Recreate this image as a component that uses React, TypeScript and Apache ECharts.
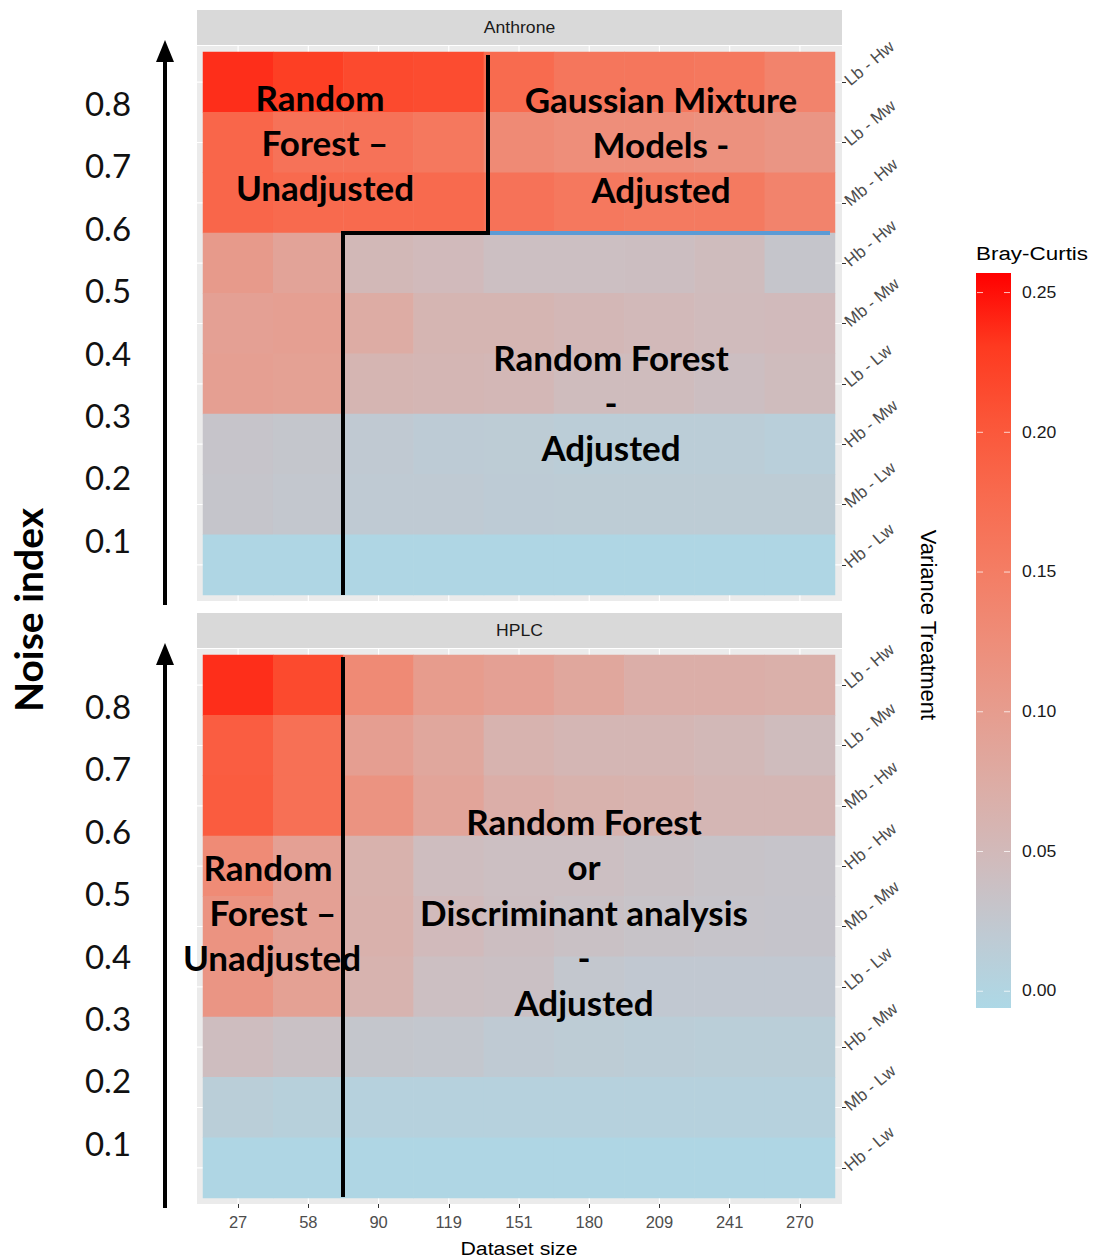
import React, { useEffect, useRef } from "react";
import * as echarts from "echarts";

// ---------- data ----------
const datasetSizes = ["27", "58", "90", "119", "151", "180", "209", "241", "270"];
// bottom -> top (category order of the y axis)
const varianceTreatments = ["Hb - Lw", "Mb - Lw", "Hb - Mw", "Lb - Lw", "Mb - Mw", "Hb - Hw", "Mb - Hw", "Lb - Mw", "Lb - Hw"];
// noise index labels, top -> bottom
const noiseLabels = ["0.8", "0.7", "0.6", "0.5", "0.4", "0.3", "0.2", "0.1"];
const legendTicks = [0, 0.05, 0.1, 0.15, 0.2, 0.25];
const colorMin = -0.006;
const colorMax = 0.257;

// Anthrone, rows top -> bottom (Lb-Hw ... Hb-Lw), columns = dataset sizes
const anthroneLbHw = [0.236, 0.226, 0.215, 0.213, 0.177, 0.160, 0.160, 0.158, 0.141];
const anthroneLbMw = [0.183, 0.166, 0.166, 0.158, 0.130, 0.124, 0.124, 0.119, 0.112];
const anthroneMbHw = [0.183, 0.178, 0.178, 0.178, 0.166, 0.158, 0.155, 0.155, 0.141];
const anthroneHbHw = [0.104, 0.089, 0.052, 0.048, 0.040, 0.040, 0.041, 0.045, 0.029];
const anthroneMbMw = [0.094, 0.096, 0.075, 0.058, 0.058, 0.054, 0.050, 0.047, 0.048];
const anthroneLbLw = [0.096, 0.093, 0.058, 0.056, 0.054, 0.045, 0.045, 0.041, 0.045];
const anthroneHbMw = [0.031, 0.028, 0.022, 0.018, 0.017, 0.015, 0.015, 0.015, 0.011];
const anthroneMbLw = [0.029, 0.026, 0.020, 0.020, 0.018, 0.017, 0.017, 0.017, 0.017];
const anthroneHbLw = [-0.003, -0.003, -0.003, -0.003, -0.003, -0.003, -0.003, -0.003, -0.003];

// HPLC, rows top -> bottom
const hplcLbHw = [0.236, 0.215, 0.130, 0.101, 0.094, 0.083, 0.071, 0.071, 0.068];
const hplcLbMw = [0.194, 0.169, 0.097, 0.083, 0.062, 0.056, 0.056, 0.052, 0.045];
const hplcMbHw = [0.196, 0.169, 0.116, 0.088, 0.071, 0.064, 0.062, 0.056, 0.056];
const hplcHbHw = [0.129, 0.094, 0.064, 0.043, 0.040, 0.040, 0.036, 0.033, 0.031];
const hplcMbMw = [0.116, 0.094, 0.066, 0.048, 0.041, 0.036, 0.033, 0.031, 0.030];
const hplcLbLw = [0.112, 0.093, 0.062, 0.040, 0.038, 0.026, 0.023, 0.023, 0.023];
const hplcHbMw = [0.043, 0.036, 0.028, 0.026, 0.020, 0.017, 0.015, 0.013, 0.013];
const hplcMbLw = [0.013, 0.009, 0.007, 0.007, 0.007, 0.007, 0.007, 0.007, 0.007];
const hplcHbLw = [-0.003, -0.003, -0.003, -0.003, -0.003, -0.003, -0.003, -0.003, -0.003];

const anthroneRows = [anthroneLbHw, anthroneLbMw, anthroneMbHw, anthroneHbHw, anthroneMbMw, anthroneLbLw, anthroneHbMw, anthroneMbLw, anthroneHbLw];
const hplcRows = [hplcLbHw, hplcLbMw, hplcMbHw, hplcHbHw, hplcMbMw, hplcLbLw, hplcHbMw, hplcMbLw, hplcHbLw];

// lightblue -> red gradient (Lab-like interpolation)
const gradientColors = ["#ADD8E6", "#BFCAD3", "#D0BBBC", "#DCADA6", "#E69D8F", "#EE8D79", "#F47C63", "#F86A4E", "#FB5538", "#FE3A20", "#FF0000"];

function toCells(rows: number[][]) {
  const out: [number, number, number][] = [];
  rows.forEach((row, r) => {
    row.forEach((v, c) => out.push([c, rows.length - 1 - r, v]));
  });
  return out;
}

// ---------- layout ----------
const PANEL_L = 197, PANEL_R = 842;
const TILE_L = 203, TILE_W = 632;
const panels = [
  { strip: 10, panelTop: 46, tileTop: 52, label: "Anthrone" },
  { strip: 613, panelTop: 649, tileTop: 655, label: "HPLC" },
];
const TILE_H = 543;
const CELL_W = TILE_W / 9;
const CELL_H = TILE_H / 9;
const SANS = "'Liberation Sans', Arial, sans-serif";
const CAL = "Lato, 'Open Sans', sans-serif";

export default function App() {
  const ref = useRef<HTMLDivElement>(null);
  useEffect(() => {
    document.body.style.margin = "0";
    const chart = echarts.init(ref.current!, null, { renderer: "svg" });

    const graphics: any[] = [];
    panels.forEach((p) => {
      graphics.push({ type: "rect", z: 0, shape: { x: PANEL_L, y: p.panelTop, width: PANEL_R - PANEL_L, height: TILE_H + 12 }, style: { fill: "#EBEBEB" } });
      for (let i = 0; i < 9; i++) {
        const x = TILE_L + CELL_W * (i + 0.5);
        graphics.push({ type: "line", z: 1, shape: { x1: x, y1: p.panelTop, x2: x, y2: p.panelTop + TILE_H + 12 }, style: { stroke: "#FFFFFF", lineWidth: 1.2 } });
        const y = p.tileTop + CELL_H * (i + 0.5);
        graphics.push({ type: "line", z: 1, shape: { x1: PANEL_L, y1: y, x2: PANEL_R, y2: y }, style: { stroke: "#FFFFFF", lineWidth: 1.2 } });
      }
      graphics.push({ type: "rect", z: 0, shape: { x: PANEL_L, y: p.strip, width: PANEL_R - PANEL_L, height: 35 }, style: { fill: "#D9D9D9" } });
      graphics.push({ type: "text", z: 5, x: (PANEL_L + PANEL_R) / 2, y: p.strip + 18, scaleX: 1.1, style: { text: p.label, fill: "#1A1A1A", font: `16px ${SANS}`, align: "center", verticalAlign: "middle" } });
      noiseLabels.forEach((t, i) => {
        graphics.push({ type: "text", z: 5, x: 108, y: p.tileTop + 51 + i * 62.4, style: { text: t, fill: "#111", font: `33px ${CAL}`, align: "center", verticalAlign: "middle" } });
      });
      graphics.push({ type: "line", z: 5, shape: { x1: 165, y1: p.panelTop + 559, x2: 165, y2: p.panelTop + 10 }, style: { stroke: "#000", lineWidth: 4 } });
      graphics.push({ type: "polygon", z: 5, shape: { points: [[156, p.panelTop + 16], [174, p.panelTop + 16], [165, p.panelTop - 6]] }, style: { fill: "#000" } });
    });

    const blk = { stroke: "#000", lineWidth: 4 };
    graphics.push({ type: "line", z: 20, shape: { x1: 488, y1: 55, x2: 488, y2: 234 }, style: blk });
    graphics.push({ type: "line", z: 20, shape: { x1: 341, y1: 233, x2: 490, y2: 233 }, style: blk });
    graphics.push({ type: "line", z: 20, shape: { x1: 343, y1: 231, x2: 343, y2: 595 }, style: blk });
    graphics.push({ type: "line", z: 20, shape: { x1: 490, y1: 233, x2: 830, y2: 233 }, style: { stroke: "#5B9BD5", lineWidth: 4 } });
    graphics.push({ type: "line", z: 20, shape: { x1: 343, y1: 657, x2: 343, y2: 1197 }, style: blk });

    const overlayTexts: [string, number, number][] = [
      ["Random", 320, 97], ["Forest \u2013", 325, 142], ["Unadjusted", 325, 187],
      ["Gaussian Mixture", 661, 99], ["Models -", 661, 144], ["Adjusted", 661, 189],
      ["Random Forest", 611, 357], ["-", 611, 402], ["Adjusted", 611, 447],
      ["Random Forest", 584, 821], ["or", 584, 866], ["Discriminant analysis", 584, 912], ["-", 584, 957], ["Adjusted", 584, 1002],
      ["Random", 268, 867], ["Forest \u2013", 273, 912], ["Unadjusted", 272, 957],
    ];
    overlayTexts.forEach(([t, x, y]) => {
      graphics.push({ type: "text", z: 30, x, y, style: { text: t, fill: "#000", font: `bold 35px ${CAL}`, align: "center", verticalAlign: "middle" } });
    });

    graphics.push({ type: "text", z: 5, x: 28, y: 610, rotation: Math.PI / 2, style: { text: "Noise index", fill: "#000", font: `bold 39px ${CAL}`, align: "center", verticalAlign: "middle" } });
    graphics.push({ type: "text", z: 5, x: 519, y: 1248, scaleX: 1.12, style: { text: "Dataset size", fill: "#000", font: `19px ${SANS}`, align: "center", verticalAlign: "middle" } });
    graphics.push({ type: "text", z: 5, x: 928, y: 625, rotation: -Math.PI / 2, style: { text: "Variance Treatment", fill: "#000", font: `22px ${SANS}`, align: "center", verticalAlign: "middle" } });

    // colour bar legend
    const LEG_X = 976, LEG_TOP = 273, LEG_W = 35, LEG_H = 735;
    graphics.push({ type: "text", z: 5, x: LEG_X, y: LEG_TOP - 20, scaleX: 1.18, style: { text: "Bray-Curtis", fill: "#000", font: `19px ${SANS}`, align: "left", verticalAlign: "middle" } });
    graphics.push({
      type: "rect", z: 40, shape: { x: LEG_X, y: LEG_TOP, width: LEG_W, height: LEG_H },
      style: {
        fill: new echarts.graphic.LinearGradient(0, 1, 0, 0, gradientColors.map((c, i) => ({ offset: i / (gradientColors.length - 1), color: c }))),
      },
    });
    legendTicks.forEach((v) => {
      const y = LEG_TOP + LEG_H - ((v - colorMin) / (colorMax - colorMin)) * LEG_H;
      graphics.push({ type: "rect", z: 50, shape: { x: LEG_X + 1, y: y - 0.5, width: 6, height: 1 }, style: { fill: "rgba(255,255,255,0.75)" } });
      graphics.push({ type: "rect", z: 50, shape: { x: LEG_X + LEG_W - 7, y: y - 0.5, width: 6, height: 1 }, style: { fill: "rgba(255,255,255,0.75)" } });
      graphics.push({ type: "text", z: 50, x: LEG_X + LEG_W + 11, y, scaleX: 1.1, style: { text: v.toFixed(2), fill: "#1A1A1A", font: `16px ${SANS}`, align: "left", verticalAlign: "middle" } });
    });

    const yAxisCommon = {
      type: "category",
      data: varianceTreatments,
      position: "right",
      offset: 7,
      axisLine: { show: false },
      axisTick: { show: true, length: 4, lineStyle: { color: "#333333" }, alignWithLabel: true },
      axisLabel: { rotate: 40, margin: 5, fontSize: 17, color: "#4D4D4D", fontFamily: SANS },
      splitLine: { show: false },
    };

    chart.setOption({
      animation: false,
      backgroundColor: "#FFFFFF",
      grid: panels.map((p) => ({ left: TILE_L, top: p.tileTop, width: TILE_W, height: TILE_H, containLabel: false })),
      xAxis: [
        { type: "category", gridIndex: 0, data: datasetSizes, show: false },
        {
          type: "category", gridIndex: 1, data: datasetSizes, offset: 6,
          axisLine: { show: false },
          axisTick: { show: true, length: 4, lineStyle: { color: "#333333" }, alignWithLabel: true },
          axisLabel: { margin: 9, fontSize: 16.5, color: "#4D4D4D", fontFamily: SANS },
          splitLine: { show: false },
        },
      ],
      yAxis: [
        { ...yAxisCommon, gridIndex: 0 },
        { ...yAxisCommon, gridIndex: 1 },
      ],
      visualMap: {
        type: "continuous",
        show: false,
        min: colorMin,
        max: colorMax,
        seriesIndex: [0, 1],
        inRange: { color: gradientColors },
      },
      graphic: { elements: graphics },
      series: [
        { type: "heatmap", xAxisIndex: 0, yAxisIndex: 0, data: toCells(anthroneRows), z: 2, itemStyle: { borderWidth: 0 } },
        { type: "heatmap", xAxisIndex: 1, yAxisIndex: 1, data: toCells(hplcRows), z: 2, itemStyle: { borderWidth: 0 } },
      ],
    });
    return () => chart.dispose();
  }, []);
  return <div ref={ref} style={{ width: 1096, height: 1258 }} />;
}
